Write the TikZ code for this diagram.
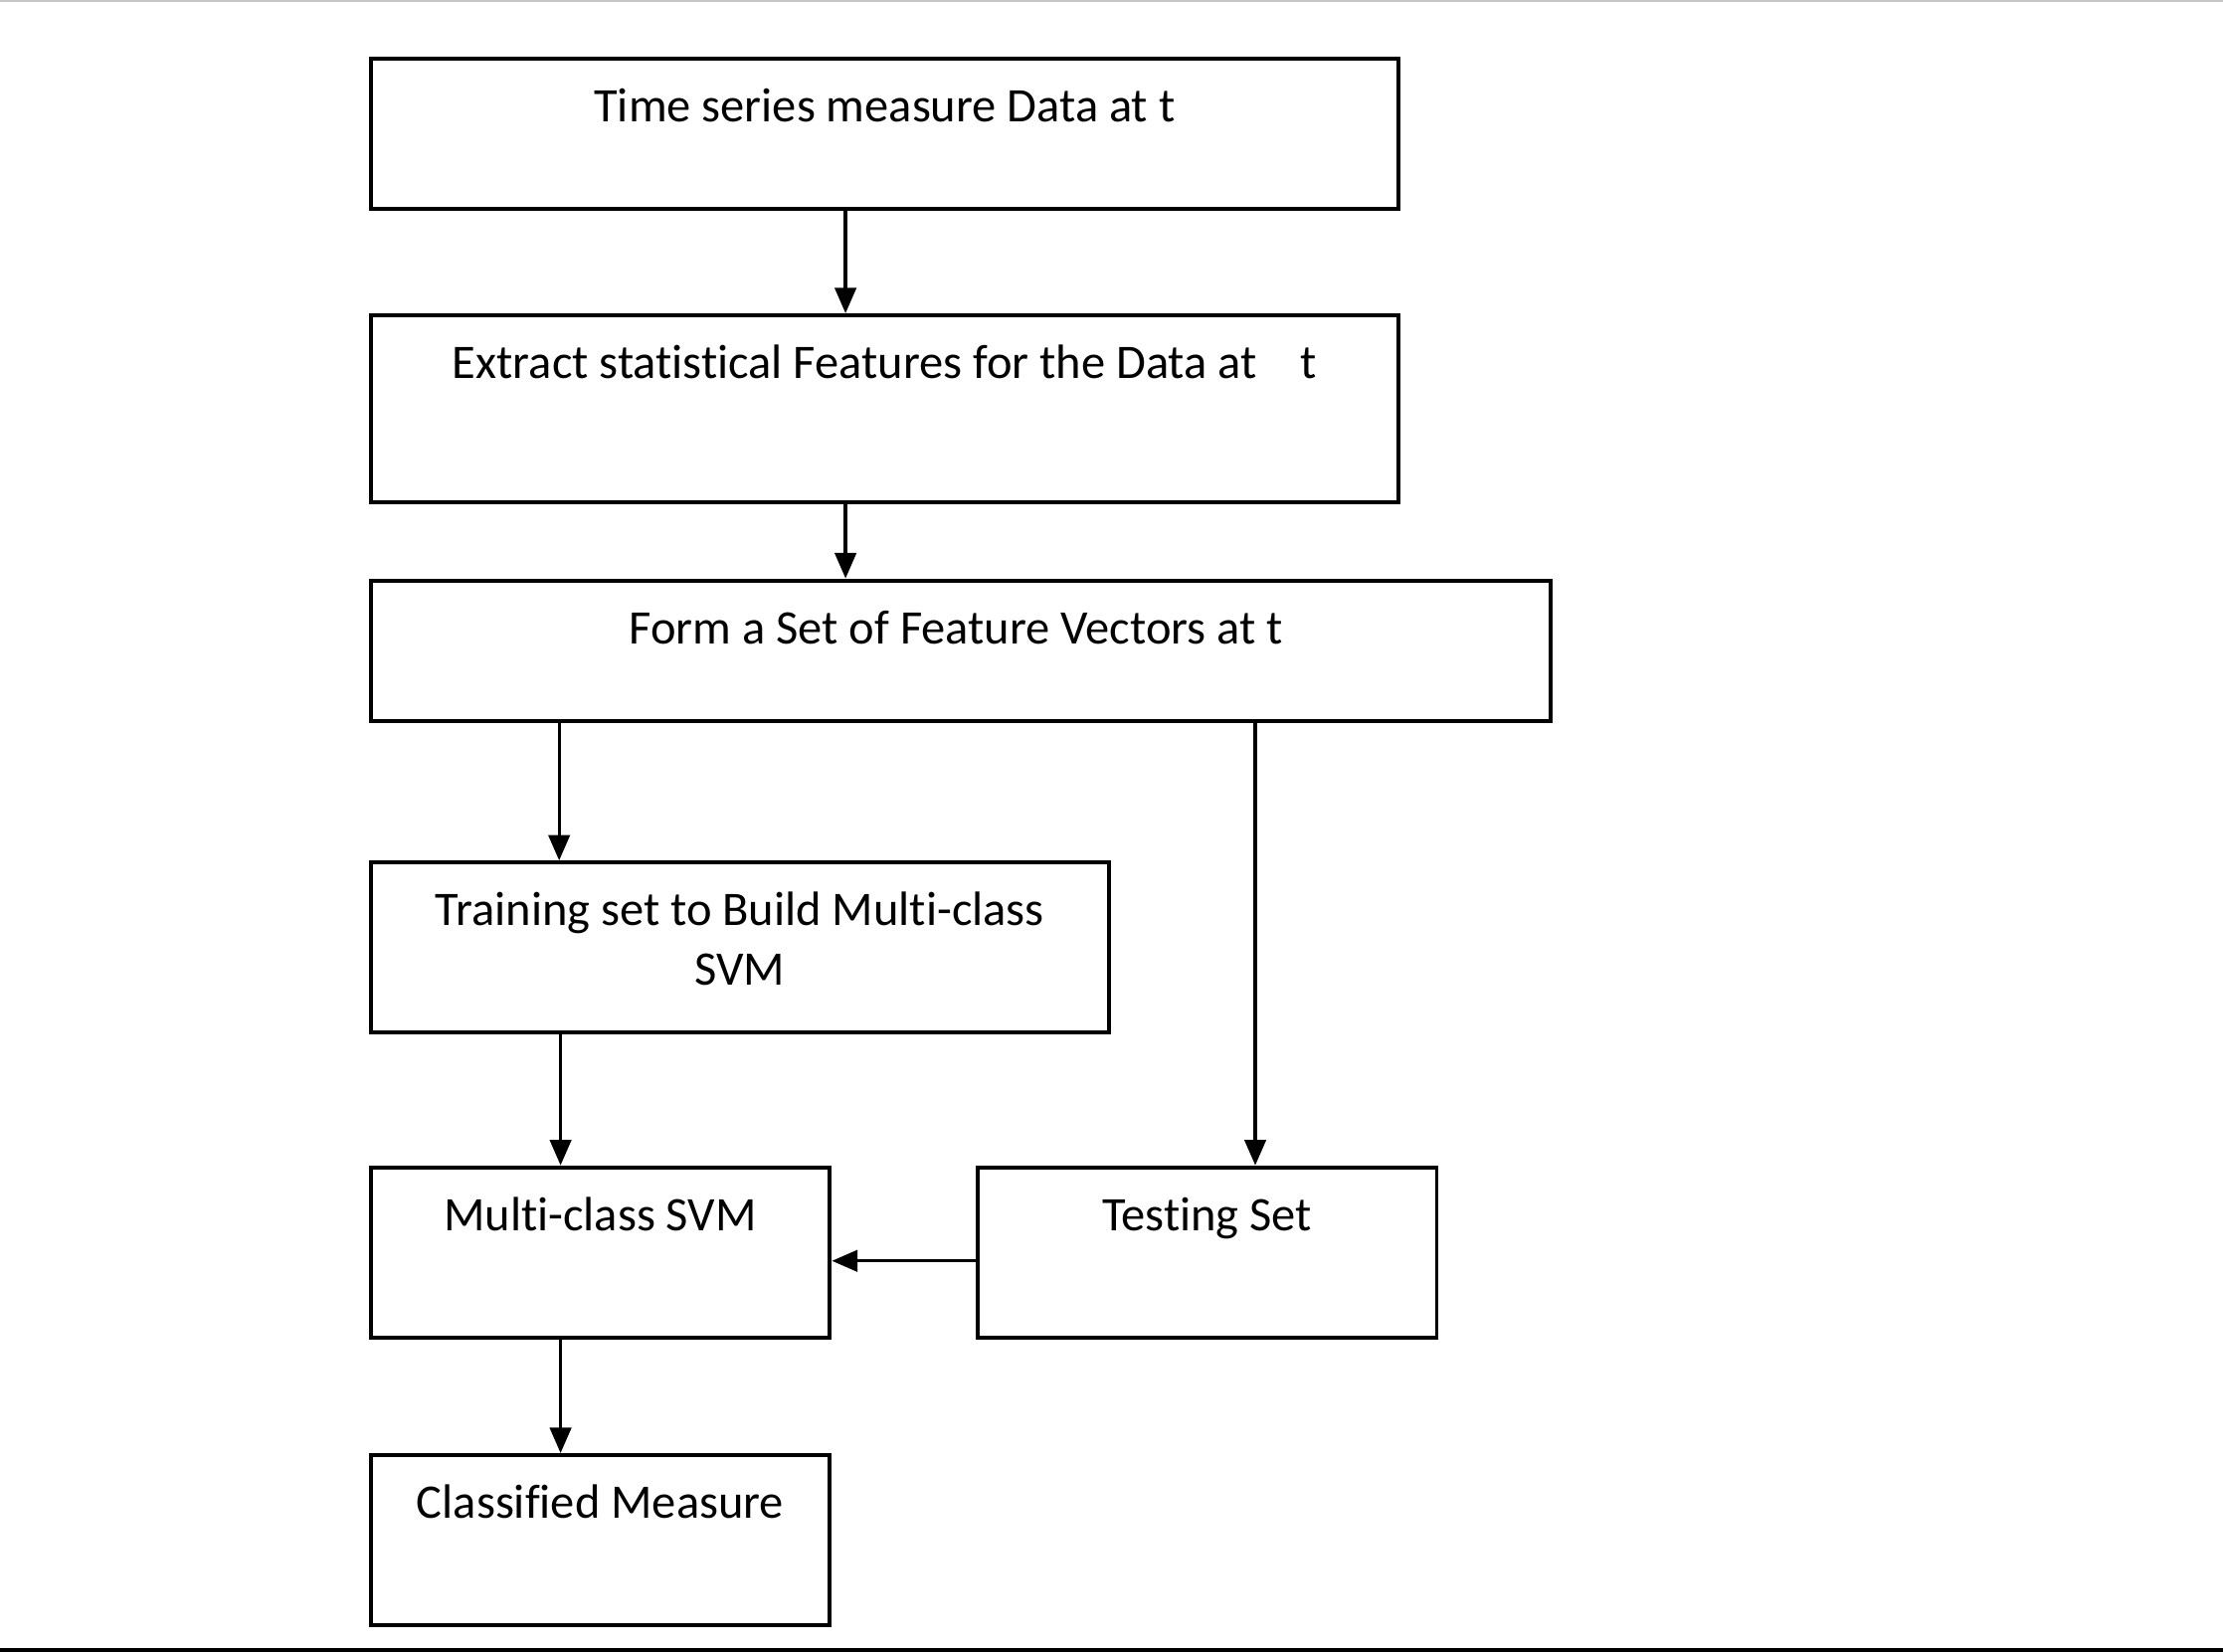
\documentclass[tikz,border=0pt]{standalone}
\usepackage{fontspec}
\setmainfont{Carlito}[Ligatures={NoCommon,NoRare,NoContextual},Contextuals=NoAlternate]
\usetikzlibrary{arrows.meta,calc}
\begin{document}
\begin{tikzpicture}[x=1pt,y=-1pt,
  box/.style={draw, line width=2.8pt, rectangle, anchor=north west, inner sep=0pt},
  lbl/.style={font=\fontsize{34}{42}\selectfont, anchor=base, inner sep=0pt},
  arr/.style={line width=2.3pt, -{Triangle[length=18pt,width=15pt]}}]
\useasboundingbox (0,0) rectangle (1568,1165);
\draw[line width=1.5pt, black!22] (0,1) -- (1568,1);
\draw[line width=2.5pt] (0,1164) -- (1568,1164);

\node[box, minimum width=725pt, minimum height=106pt] (b1) at (260,40) {};
\node[box, minimum width=725pt, minimum height=132pt] (b2) at (260,221) {};
\node[box, minimum width=832pt, minimum height=99pt]  (b3) at (260,408) {};
\node[box, minimum width=521pt, minimum height=120pt] (b4) at (260,607) {};
\node[box, minimum width=324pt, minimum height=120pt] (b5) at (260,822) {};
\node[box, minimum width=324pt, minimum height=120pt] (b6) at (688,822) {};
\node[box, minimum width=324pt, minimum height=120pt] (b7) at (260,1025) {};

\node[lbl] (t1) at ($(b1.north)+(0,46)$) {Time series measure Data at t};
\node[lbl] (t2) at ($(b2.north)+(0,46)$) {Extract stat\kern0pt ist\kern0pt ical Features for the Data at~~~~t};
\node[lbl] (t3) at ($(b3.north)+(-3,46)$) {Form a Set of Feature Vectors at t};
\node[lbl] (t4a) at ($(b4.north)+(0,46)$) {Training set to Build Mult\kern0pt i-class};
\node[lbl] (t4b) at ($(b4.north)+(0,88)$) {SVM};
\node[lbl] (t5) at ($(b5.north)+(0,46)$) {Mult\kern0pt i-class SVM};
\node[lbl] (t6) at ($(b6.north)+(0,46)$) {Test\kern0pt ing Set};
\node[lbl] (t7) at ($(b7.north)+(0,46)$) {Classified Measure};

\draw[arr] ([xshift=-27.5pt]b1.south) -- ([xshift=-27.5pt]b2.north);
\draw[arr] ([xshift=-27.5pt]b2.south) -- ([xshift=-81pt]b3.north);
\draw[arr] ([xshift=-283pt]b3.south) -- ([xshift=-127.5pt]b4.north);
\draw[arr] ([xshift=208pt]b3.south) -- ([xshift=34pt]b6.north);
\draw[arr] ([xshift=-126.5pt]b4.south) -- ([xshift=-28pt]b5.north);
\draw[arr] ([yshift=-6pt]b6.west) -- ([yshift=-6pt]b5.east);
\draw[arr] ([xshift=-28pt]b5.south) -- ([xshift=-28pt]b7.north);
\end{tikzpicture}
\end{document}
